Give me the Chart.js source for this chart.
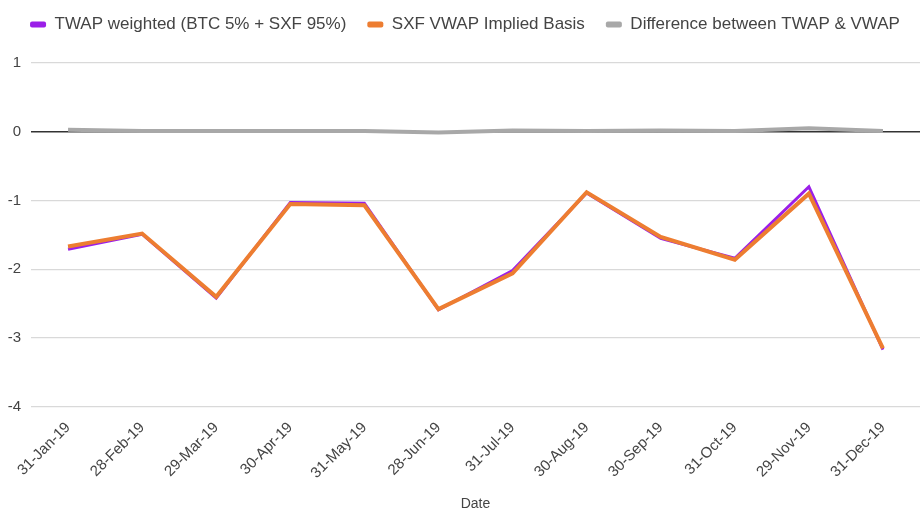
<!DOCTYPE html>
<html>
<head>
<meta charset="utf-8">
<script src="https://cdn.jsdelivr.net/npm/chart.js@4.4.0/dist/chart.umd.min.js"></script>
<style>
  html, body { margin: 0; padding: 0; background: #fff; }
  #wrap { width: 920px; height: 513px; }
</style>
</head>
<body>
<div id="wrap"><canvas id="myChart" width="920" height="513"></canvas></div>
<script>
const dates = ["31-Jan-19", "28-Feb-19", "29-Mar-19", "30-Apr-19", "31-May-19", "28-Jun-19",
  "31-Jul-19", "30-Aug-19", "30-Sep-19", "31-Oct-19", "29-Nov-19", "31-Dec-19"];

const twapWeighted = [-1.71, -1.49, -2.42, -1.03, -1.04, -2.59, -2.02, -0.89, -1.55, -1.84, -0.80, -3.17];
const vwapBasis = [-1.67, -1.48, -2.40, -1.05, -1.07, -2.58, -2.06, -0.88, -1.53, -1.86, -0.90, -3.15];
const difference = [0.03, 0.01, 0.01, 0.01, 0.01, -0.01, 0.02, 0.01, 0.02, 0.01, 0.05, 0.01];

const yTicks = [1, 0, -1, -2, -3, -4];

// push the plot down a bit below the legend
const legendGap = {
  id: "legendGap",
  beforeInit(chart) {
    const fit = chart.legend.fit;
    chart.legend.fit = function () {
      fit.bind(chart.legend)();
      this.height += 20;
    };
  },
};

let ctx = document.getElementById("myChart").getContext("2d");
let chart = new Chart(ctx, {
  type: "line",
  data: {
    labels: dates,
    datasets: [
      {
        label: "TWAP weighted (BTC 5% + SXF 95%)",
        data: twapWeighted,
        borderColor: "#9b1fe8",
        backgroundColor: "#9b1fe8",
        borderWidth: 3,
        pointRadius: 0,
        order: 3,
      },
      {
        label: "SXF VWAP Implied Basis",
        data: vwapBasis,
        borderColor: "#ed7d31",
        backgroundColor: "#ed7d31",
        borderWidth: 4,
        pointRadius: 0,
        order: 2,
      },
      {
        label: "Difference between TWAP & VWAP",
        data: difference,
        borderColor: "#a8a8a8",
        backgroundColor: "#a8a8a8",
        borderWidth: 4,
        pointRadius: 0,
        order: 1,
      },
    ],
  },
  plugins: [legendGap],
  options: {
    responsive: false,
    animation: false,
    layout: { padding: { left: 0, right: -10, top: -5, bottom: 0 } },
    plugins: {
      legend: {
        position: "top",
        maxWidth: 940,
        labels: {
          font: { family: "Liberation Sans", size: 17 },
          color: "#444",
          boxWidth: 16,
          boxHeight: 6,
          padding: 21,
          useBorderRadius: true,
          borderRadius: 2,
          sort: (a, b) => a.datasetIndex - b.datasetIndex,
          generateLabels: (chart) => {
            let items = Chart.defaults.plugins.legend.labels.generateLabels(chart);
            items.forEach((item) => {
              item.lineWidth = 0;
            });
            return items;
          },
        },
      },
      tooltip: { enabled: false },
    },
    scales: {
      x: {
        offset: true,
        grid: { display: false },
        border: { display: false },
        ticks: {
          font: { family: "Liberation Sans", size: 15 },
          color: "#444",
          maxRotation: 45,
          minRotation: 45,
          autoSkip: false,
          padding: 4,
        },
        title: {
          display: true,
          text: "Date",
          font: { family: "Liberation Sans", size: 14 },
          color: "#444",
          padding: { top: 10, bottom: 0 },
        },
      },
      y: {
        min: -4,
        max: 1,
        afterBuildTicks: (axis) => {
          axis.ticks = yTicks.map((v) => ({ value: v }));
        },
        afterFit: (axis) => {
          axis.width = 31;
        },
        border: { display: false },
        grid: {
          color: (c) => (c.tick && c.tick.value === 0 ? "#333" : "#d9d9d9"),
          lineWidth: (c) => (c.tick && c.tick.value === 0 ? 1.5 : 1.2),
          drawTicks: false,
        },
        ticks: {
          font: { family: "Liberation Sans", size: 15 },
          color: "#444",
          padding: 10,
        },
      },
    },
  },
});
</script>
</body>
</html>
